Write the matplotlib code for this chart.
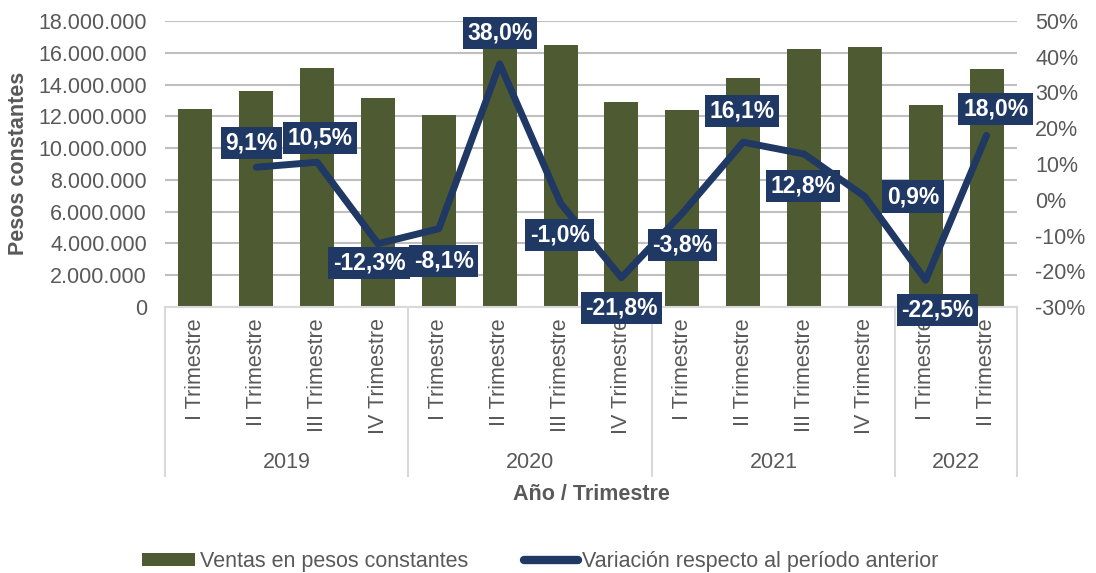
import numpy as np
import matplotlib
matplotlib.use("Agg")
import matplotlib.pyplot as plt
from matplotlib.patches import Patch
from matplotlib.lines import Line2D

plt.rcParams['font.family'] = ['Liberation Sans', 'DejaVu Sans']

# datos
trimestres = ["I Trimestre", "II Trimestre", "III Trimestre", "IV Trimestre",
              "I Trimestre", "II Trimestre", "III Trimestre", "IV Trimestre",
              "I Trimestre", "II Trimestre", "III Trimestre", "IV Trimestre",
              "I Trimestre", "II Trimestre"]
anios = ["2019", "2020", "2021", "2022"]
trim_por_anio = [4, 4, 4, 2]
ventas = [12460000, 13590000, 15020000, 13170000,
          12090000, 16640000, 16480000, 12890000,
          12400000, 14400000, 16240000, 16390000,
          12700000, 14990000]
variacion = [None, 9.1, 10.5, -12.3, -8.1, 38.0, -1.0, -21.8,
             -3.8, 16.1, 12.8, 0.9, -22.5, 18.0]

# desplazamiento de etiquetas (pixeles, x derecha / y abajo)
desp = [None, (-5, -24), (3, -24), (-9, 19), (5, 32), (0, -31), (-1, 32),
        (0, 30), (0, 32), (-1, -31), (-1, 32), (48, 0), (12, 30), (9, -26)]

verde = '#4E5A31'
azul = '#1F3864'
gris = '#595959'
fs = 15.5

W, H = 1096, 573
fig = plt.figure(figsize=(W / 100, H / 100), dpi=100)
ax = fig.add_axes([165 / W, 1 - 307 / H, (1017 - 165) / W, 286 / H])
ax2 = ax.twinx()

x = np.arange(len(ventas))
ax.bar(x, ventas, width=0.56, color=verde, zorder=2)
ax.set_xlim(-0.5, len(ventas) - 0.5)
ax.set_ylim(0, 18000000)
yt = np.arange(0, 18000001, 2000000)
ax.set_yticks(yt, labels=[f"{int(v):,}".replace(',', '.') for v in yt])
ax.yaxis.grid(True, color='#BFBFBF', lw=1.5, zorder=0)
ax.set_axisbelow(True)
ax.set_xticks(x, labels=trimestres, rotation=90, va='top', ha='center')
ax.tick_params(axis='x', length=0, pad=8, labelsize=fs, labelcolor=gris)
ax.tick_params(axis='y', length=0, pad=13, labelsize=fs, labelcolor=gris)
for s in ['top', 'right', 'left']:
    ax.spines[s].set_visible(False)
ax.spines['bottom'].set_color('#D9D9D9')
ax.spines['bottom'].set_linewidth(1.5)

# separadores y años
tr = ax.get_xaxis_transform()
inicio = -0.5
for anio, n in zip(anios, trim_por_anio):
    ax.plot([inicio, inicio], [0, -0.591], transform=tr, clip_on=False,
            color='#D9D9D9', lw=1.5)
    ax.text(inicio + n / 2, -0.545, anio, transform=tr, ha='center', va='center',
            fontsize=fs, color=gris)
    inicio += n
ax.plot([inicio, inicio], [0, -0.591], transform=tr, clip_on=False,
        color='#D9D9D9', lw=1.5)

# linea de variacion
xv = [i for i, v in enumerate(variacion) if v is not None]
vv = [v for v in variacion if v is not None]
ax2.plot(xv, vv, color=azul, lw=5, solid_capstyle='round', solid_joinstyle='round')
ax2.set_ylim(-30, 50)
pt = np.arange(-30, 51, 10)
ax2.set_yticks(pt, labels=[f"{v}%" for v in pt])
ax2.tick_params(axis='y', length=0, pad=13, labelsize=fs, labelcolor=gris)
for s in ax2.spines.values():
    s.set_visible(False)

for i, v in zip(xv, vv):
    dx, dy = desp[i]
    ax2.annotate(f"{v:.1f}%".replace('.', ','), (i, v), xytext=(dx, -dy),
                 textcoords='offset pixels', ha='center', va='center',
                 fontsize=16.5, fontweight='bold', color='white', annotation_clip=False,
                 bbox=dict(boxstyle='square,pad=0.2', fc=azul, ec='none'))

fig.text(19 / W, 1 - 163 / H, "Pesos constantes", rotation=90, ha='center', va='center',
         fontsize=fs, fontweight='bold', color=gris)
fig.text(591 / W, 1 - 495 / H, "Año / Trimestre", ha='center', va='center',
         fontsize=fs, fontweight='bold', color=gris)

handles = [Patch(facecolor=verde, edgecolor='none'),
           Line2D([0], [0], color=azul, lw=6, solid_capstyle='round')]
fig.legend(handles, ["Ventas en pesos constantes", "Variación respecto al período anterior"],
           loc='center', bbox_to_anchor=(540 / W, 1 - 562 / H), ncol=2, frameon=False,
           fontsize=15.5, handlelength=2.5, handleheight=0.55, handletextpad=0.2,
           columnspacing=2.6, labelcolor=gris)

fig.savefig("out.png", dpi=100)
